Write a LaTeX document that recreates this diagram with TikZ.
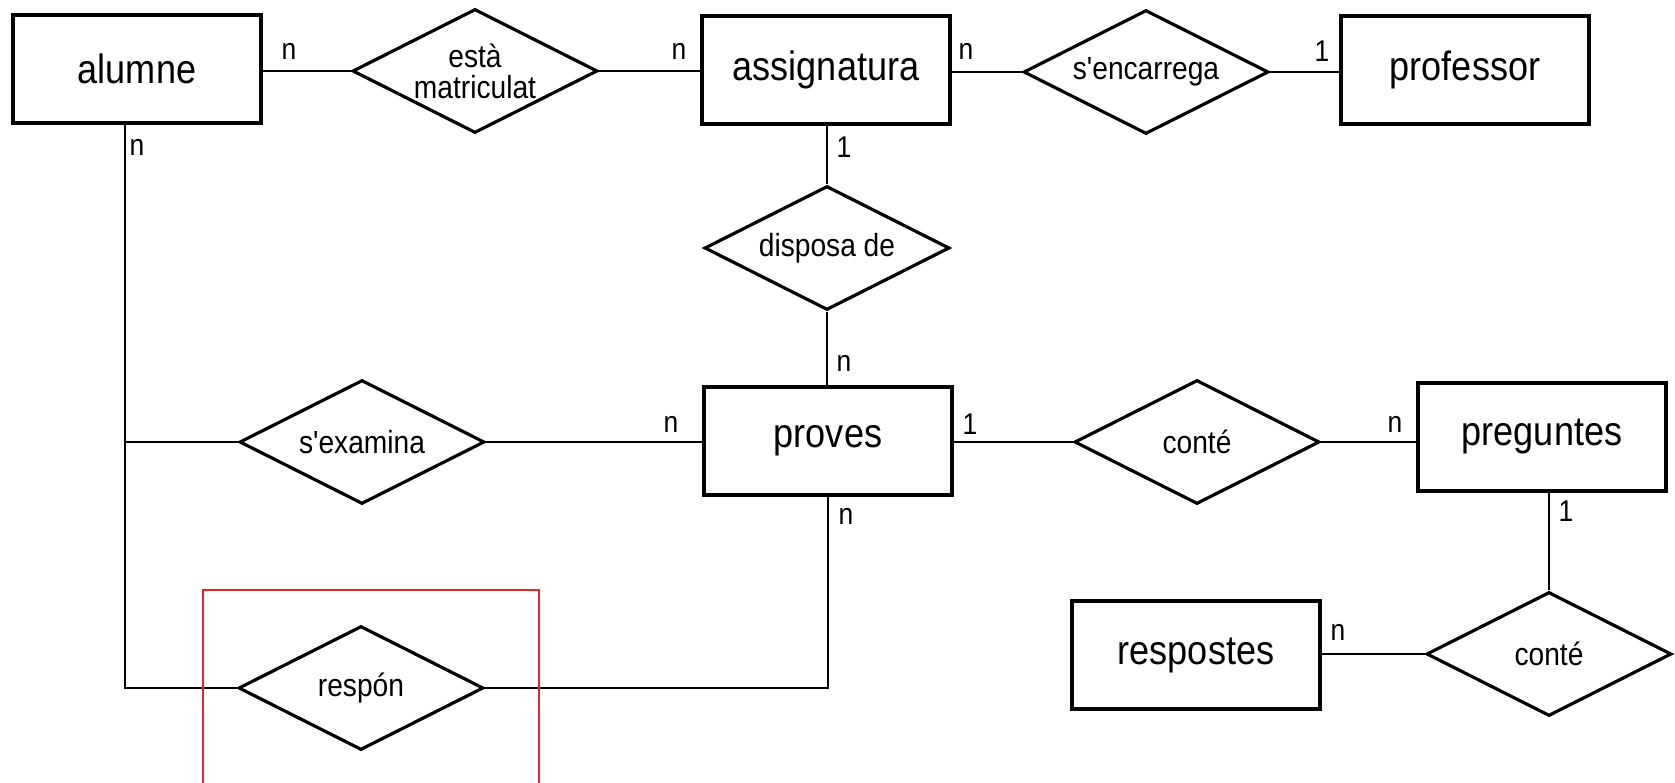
\documentclass[tikz,border=0pt]{standalone}
\usepackage{fontspec}
\setmainfont{Liberation Sans}[FakeStretch=0.88, Ligatures=TeXOff]
\usetikzlibrary{shapes.geometric}
\definecolor{redbox}{RGB}{220,40,40}
\tikzset{
  entity/.style={draw, rectangle, line width=3.4pt, minimum width=248pt, minimum height=108pt, inner sep=0pt, font=\fontsize{41}{45}\selectfont},
  relation/.style={draw, diamond, line width=3.2pt, minimum width=245pt, minimum height=124pt, inner sep=0pt,
    label={[reltext]center:#1}},
  reltext/.style={inner sep=0pt, align=center, font=\fontsize{32}{31}\selectfont},
  conn/.style={line width=2.4pt},
  card/.style={inner sep=0pt, font=\fontsize{30}{32}\selectfont},
}
\begin{document}
\begin{tikzpicture}[x=1pt, y=-1pt]
\useasboundingbox (0,0) rectangle (1675,783);
% entities
\node[entity] (alumne) at (137,69) {alumne};
\node[entity] (assig) at (826,70) {assignatura};
\node[entity] (prof) at (1465,70) {professor};
\node[entity] (proves) at (828,441) {proves};
\node[entity] (preg) at (1542,437) {preguntes};
\node[entity] (resp) at (1196,655) {respostes};
% relations
\node[relation={està\\matriculat}] (esta) at (475,71) {};
\node[relation={s'encarrega}] (encarrega) at (1146,72) {};
\node[relation={disposa de}] (disposa) at (827,248) {};
\node[relation={s'examina}] (examina) at (362,442) {};
\node[relation={conté}] (conte) at (1197,442) {};
\node[relation={conté}] (conteb) at (1549,654) {};
\node[relation={respón}] (respon) at (361,688) {};
% helper coordinates
\coordinate (ca) at (125,442);
\coordinate (cb) at (125,688);
% connectors
\draw[conn] (alumne.east |- esta.west) -- (esta.west);
\draw[conn] (esta.east) -- (assig.west |- esta.east);
\draw[conn] (assig.east |- encarrega.west) -- (encarrega.west);
\draw[conn] (encarrega.east) -- (prof.west |- encarrega.east);
\draw[conn] (assig.south -| disposa.north) -- (disposa.north);
\draw[conn] (disposa.south) -- (proves.north -| disposa.south);
\draw[conn] (alumne.south -| cb) -- (cb) -- (respon.west);
\draw[conn] (ca) -- (examina.west);
\draw[conn] (examina.east) -- (proves.west |- examina.east);
\draw[conn] (proves.east |- conte.west) -- (conte.west);
\draw[conn] (conte.east) -- (preg.west |- conte.east);
\draw[conn] (proves.south) |- (respon.east);
\draw[conn] (preg.south -| conteb.north) -- (conteb.north);
\draw[conn] (conteb.west) -- (resp.east |- conteb.west);
% cardinalities
\node[card] (c1) at (289,51) {n};
\node[card] (c2) at (679,51) {n};
\node[card] (c3) at (966,51) {n};
\node[card] (c4) at (1322,51) {1};
\node[card] (c5) at (137,147) {n};
\node[card] (c6) at (844,147) {1};
\node[card] (c7) at (844,363) {n};
\node[card] (c8) at (671,424) {n};
\node[card] (c9) at (970,424) {1};
\node[card] (c10) at (1395,424) {n};
\node[card] (c11) at (846,516) {n};
\node[card] (c12) at (1566,511) {1};
\node[card] (c13) at (1338,632) {n};
% red frame
\draw[redbox, line width=1.3pt] (203,590) rectangle (539,800);
\end{tikzpicture}
\end{document}
